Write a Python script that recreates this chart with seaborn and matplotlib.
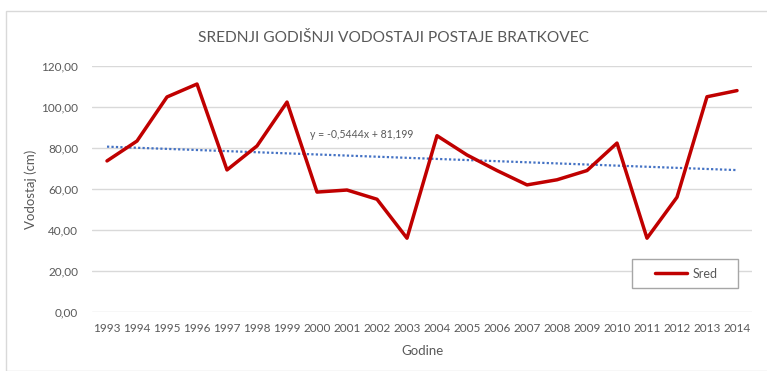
import numpy as np
import pandas as pd
import matplotlib
matplotlib.use("Agg")
import matplotlib.pyplot as plt
import seaborn as sns
from matplotlib.patches import Rectangle

years = [1993, 1994, 1995, 1996, 1997, 1998, 1999, 2000, 2001, 2002, 2003,
         2004, 2005, 2006, 2007, 2008, 2009, 2010, 2011, 2012, 2013, 2014]
sred = [73.7, 83.4, 104.9, 111.2, 69.3, 81.0, 102.4, 58.5, 59.5, 55.0, 36.0,
        86.0, 76.6, 69.0, 62.0, 64.5, 69.0, 82.4, 36.0, 56.0, 105.0, 108.0]
trend_slope = -0.5444
trend_intercept = 81.199
y_ticks = [0, 20, 40, 60, 80, 100, 120]

sns.set_theme(style="white")
plt.rcParams["font.family"] = ["Lato", "DejaVu Sans"]

text_gray = "#595959"

df = pd.DataFrame({"idx": np.arange(len(years)), "Sred": sred})
df["trend"] = trend_slope * (df["idx"] + 1) + trend_intercept

fig = plt.figure(figsize=(7.67, 3.71), dpi=100)
# chart-area border
fig.patches.append(Rectangle((6 / 767, 0), 1.2, 1 - 11 / 371, transform=fig.transFigure,
                             fill=False, edgecolor="#D9D9D9", linewidth=1.0))
ax = fig.add_axes([92 / 767, 1 - 312 / 371, 660 / 767, 246 / 371])

sns.lineplot(data=df, x="idx", y="trend", ax=ax, color="#4472C4", linewidth=1.6,
             linestyle=(0, (1, 1)), zorder=2, legend=False)
sns.lineplot(data=df, x="idx", y="Sred", ax=ax, color="#C00000", linewidth=2.5,
             label="Sred", zorder=3)

ax.set_xlim(-0.5, len(years) - 0.5)
ax.set_ylim(0, 120)
ax.set_yticks(y_ticks)
ax.set_yticklabels([f"{v:.2f}".replace(".", ",") for v in y_ticks])
ax.set_xticks(np.arange(len(years)))
ax.set_xticklabels([str(y) for y in years])
ax.grid(axis="y", color="#D9D9D9", linewidth=1.0)
ax.set_axisbelow(True)
for s in ax.spines.values():
    s.set_visible(False)
ax.tick_params(axis="both", length=0, colors=text_gray, labelsize=8.5)
ax.tick_params(axis="x", pad=8)
ax.tick_params(axis="y", pad=10)

ax.set_xlabel("Godine", color=text_gray, fontsize=9.5, labelpad=8)
ax.set_ylabel("Vodostaj (cm)", color=text_gray, fontsize=9.5)
ax.yaxis.set_label_coords((37 - 92) / 660, 0.5)

fig.text(394 / 767, 1 - 38 / 371, "SREDNJI GODIŠNJI VODOSTAJI POSTAJE BRATKOVEC",
         ha="center", va="center", color=text_gray, fontsize=11.2)

ax.text(8.5, 86.5, "y = -0,5444x + 81,199", color=text_gray, fontsize=7.6,
        ha="center", va="center")

# legend box drawn as its own frame, entries centred inside
box_x0, box_x1 = (632 - 92) / 660, (738 - 92) / 660
box_y0, box_y1 = (312 - 288) / 246, (312 - 259) / 246
ax.add_patch(Rectangle((box_x0, box_y0), box_x1 - box_x0, box_y1 - box_y0,
                       transform=ax.transAxes, fill=True, facecolor="white",
                       edgecolor="#A6A6A6", linewidth=1.0, zorder=4))
leg = ax.legend(loc="center", bbox_to_anchor=((686 - 92) / 660, (box_y0 + box_y1) / 2),
                borderaxespad=0, borderpad=0, frameon=False, fontsize=9,
                handlelength=2.6, handletextpad=0.4, labelcolor=text_gray)
leg.set_zorder(5)

fig.savefig("out.png", dpi=100)
